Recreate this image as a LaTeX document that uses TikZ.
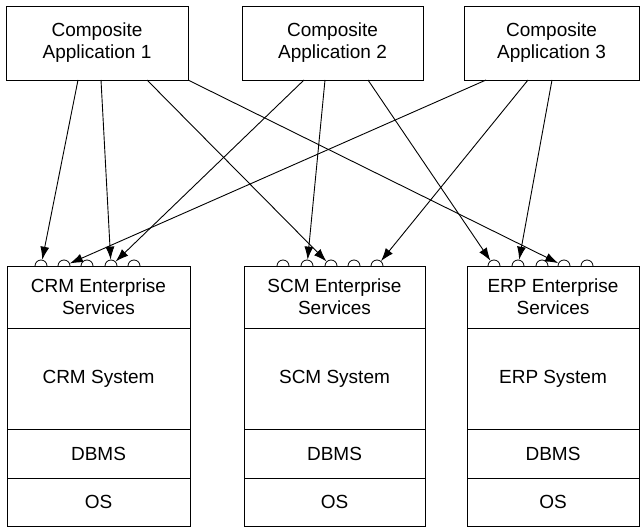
\documentclass[tikz,border=0pt]{standalone}
\usepackage{fontspec}
\setmainfont{Liberation Sans}
\usetikzlibrary{arrows.meta}
\begin{document}
\begin{tikzpicture}[x=1pt,y=-1pt,
  box/.style={draw=black,line width=0.9pt,fill=white,inner sep=0pt,align=center,
    font=\fontsize{19}{22}\selectfont},
  port/.style={circle,draw=black,line width=0.8pt,fill=white,minimum size=12pt,inner sep=0pt},
  arr/.style={draw=black,line width=0.9pt,-{Latex[length=13pt,width=9pt,fill=black]}}]
\useasboundingbox (0,0) rectangle (640,527);

% top application boxes
\node[box,minimum width=182pt,minimum height=74pt] (a1) at (97,43) {Composite\\Application 1};
\node[box,minimum width=181pt,minimum height=74pt] (a2) at (332.5,43) {Composite\\Application 2};
\node[box,minimum width=175pt,minimum height=74pt] (a3) at (551.5,43) {Composite\\Application 3};

% ports
\foreach \n/\x in {crm1/41,crm2/64,crm3/87,crm4/111,crm5/134,
                   scm1/283,scm2/307,scm3/331,scm4/354,scm5/377,
                   erp1/494,erp2/518,erp3/542,erp4/564,erp5/587}
  \node[port] (\n) at (\x,266) {};

% bottom stacks
\foreach \s/\cx/\w/\lab in {crm/98.5/183/CRM,scm/334.5/181/SCM,erp/553/172/ERP}{
  \node[box,minimum width=\w pt,minimum height=62pt] (\s es) at (\cx,297) {\lab{} Enterprise\\Services};
  \node[box,minimum width=\w pt,minimum height=101pt] (\s sys) at (\cx,378.5) {\lab{} System};
  \node[box,minimum width=\w pt,minimum height=49pt] (\s db) at (\cx,453.5) {DBMS};
  \node[box,minimum width=\w pt,minimum height=48pt] (\s os) at (\cx,502) {OS};
}

% connector start points on the application boxes
\coordinate (a1p1) at (78,80);
\coordinate (a1p2) at (101,80);
\coordinate (a1p3) at (147,80);
\coordinate (a1p4) at (188,80);
\coordinate (a2p1) at (304,80);
\coordinate (a2p2) at (325,80);
\coordinate (a2p3) at (368,80);
\coordinate (a3p1) at (486,80);
\coordinate (a3p2) at (528,80);
\coordinate (a3p3) at (552,80);

\draw[arr] (a1p1) -- (crm1);
\draw[arr] (a1p2) -- (crm4);
\draw[arr] (a1p3) -- (scm3);
\draw[arr] (a1p4) -- (erp4);
\draw[arr] (a2p1) -- (crm4);
\draw[arr] (a2p2) -- (scm2);
\draw[arr] (a2p3) -- (erp1);
\draw[arr] (a3p1) -- (crm2);
\draw[arr] (a3p2) -- (scm5);
\draw[arr] (a3p3) -- (erp2);
\end{tikzpicture}
\end{document}
